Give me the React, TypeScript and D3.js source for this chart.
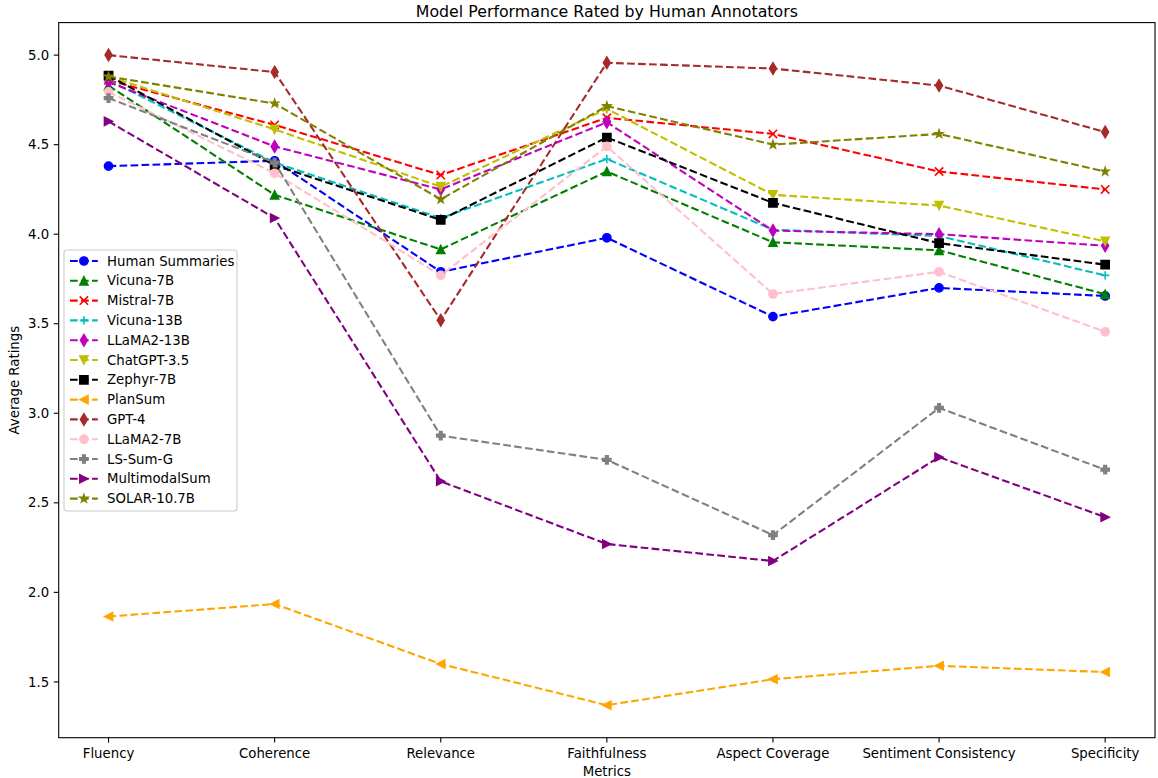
import React from "react";
import * as d3 from "d3";

const metrics = ["Fluency", "Coherence", "Relevance", "Faithfulness", "Aspect Coverage", "Sentiment Consistency", "Specificity"];

const humanSummaries = [4.38, 4.41, 3.79, 3.98, 3.54, 3.70, 3.655];
const vicuna7B = [4.83, 4.22, 3.915, 4.35, 3.955, 3.91, 3.665];
const mistral7B = [4.86, 4.61, 4.33, 4.65, 4.56, 4.35, 4.25];
const vicuna13B = [4.86, 4.40, 4.09, 4.42, 4.025, 3.99, 3.77];
const llama213B = [4.85, 4.49, 4.25, 4.625, 4.02, 4.00, 3.935];
const chatgpt35 = [4.88, 4.585, 4.265, 4.70, 4.22, 4.16, 3.96];
const zephyr7B = [4.885, 4.385, 4.08, 4.54, 4.175, 3.95, 3.83];
const planSum = [1.865, 1.935, 1.60, 1.37, 1.515, 1.59, 1.555];
const gpt4 = [5.0, 4.905, 3.52, 4.957, 4.925, 4.83, 4.57];
const llama27B = [4.795, 4.34, 3.77, 4.49, 3.666, 3.79, 3.455];
const lsSumG = [4.76, 4.40, 2.875, 2.74, 2.32, 3.03, 2.685];
const multimodalSum = [4.63, 4.09, 2.62, 2.27, 2.175, 2.755, 2.42];
const solar107B = [4.88, 4.73, 4.195, 4.715, 4.50, 4.56, 4.35];

const seriesNames = ["Human Summaries", "Vicuna-7B", "Mistral-7B", "Vicuna-13B", "LLaMA2-13B", "ChatGPT-3.5", "Zephyr-7B", "PlanSum", "GPT-4", "LLaMA2-7B", "LS-Sum-G", "MultimodalSum", "SOLAR-10.7B"];
const seriesValues = [humanSummaries, vicuna7B, mistral7B, vicuna13B, llama213B, chatgpt35, zephyr7B, planSum, gpt4, llama27B, lsSumG, multimodalSum, solar107B];
const seriesColors = ["#0000ff", "#008000", "#ff0000", "#00bfbf", "#bf00bf", "#bfbf00", "#000000", "#ffa500", "#a52a2a", "#ffc0cb", "#808080", "#800080", "#808000"];
const seriesMarkers = ["o", "^", "x", "+", "d", "v", "s", "<", "d", "o", "P", ">", "*"];

const yTicks = [1.5, 2.0, 2.5, 3.0, 3.5, 4.0, 4.5, 5.0];

const W = 1158;
const H = 778;
const left = 58.7;
const right = 1155;
const top = 22.6;
const bottom = 737.7;
const FONT = "'DejaVu Sans', sans-serif";
const FS = 13.3;
const MS = 8.33; // marker size px
const H2 = MS / 2;

function markerPath(m: string): string {
  const h = H2;
  switch (m) {
    case "^":
      return `M0,${-h}L${-h},${h}L${h},${h}Z`;
    case "v":
      return `M0,${h}L${-h},${-h}L${h},${-h}Z`;
    case "<":
      return `M${-h},0L${h},${-h}L${h},${h}Z`;
    case ">":
      return `M${h},0L${-h},${-h}L${-h},${h}Z`;
    case "s":
      return `M${-h},${-h}L${h},${-h}L${h},${h}L${-h},${h}Z`;
    case "d": {
      const v = MS * 0.7071;
      const hh = v * 0.6;
      return `M0,${-v}L${hh},0L0,${v}L${-hh},0Z`;
    }
    case "P": {
      const a = MS / 2;
      const b = MS / 6;
      return `M${-b},${-a}L${b},${-a}L${b},${-b}L${a},${-b}L${a},${b}L${b},${b}L${b},${a}L${-b},${a}L${-b},${b}L${-a},${b}L${-a},${-b}L${-b},${-b}Z`;
    }
    case "*": {
      const pts: string[] = [];
      const ro = h;
      const ri = h * 0.381966;
      for (let i = 0; i < 10; i++) {
        const r = i % 2 === 0 ? ro : ri;
        const ang = (Math.PI / 5) * i;
        pts.push(`${(r * Math.sin(ang)).toFixed(3)},${(-r * Math.cos(ang)).toFixed(3)}`);
      }
      return "M" + pts.join("L") + "Z";
    }
    case "x":
      return `M${-h},${-h}L${h},${h}M${-h},${h}L${h},${-h}`;
    case "+":
      return `M${-h},0L${h},0M0,${-h}L0,${h}`;
    default:
      return "";
  }
}

function Marker({ m, color, x, y }: { m: string; color: string; x: number; y: number }) {
  if (m === "o") {
    return <circle cx={x} cy={y} r={H2} fill={color} stroke={color} strokeWidth={1.39} />;
  }
  const open = m === "x" || m === "+";
  return (
    <path
      d={markerPath(m)}
      transform={`translate(${x},${y})`}
      fill={open ? "none" : color}
      stroke={color}
      strokeWidth={open ? 1.6 : 1.39}
      strokeLinejoin="miter"
    />
  );
}

export default function App() {
  const x = d3.scaleLinear().domain([-0.3, 6.3]).range([left, right]);
  const y = d3.scaleLinear().domain([1.1885, 5.1815]).range([bottom, top]);
  const line = d3
    .line<number>()
    .x((_, i) => x(i))
    .y((v) => y(v));

  const legX = 64;
  const legY = 250;
  const legW = 173;
  const legH = 261;
  const rowH = 19.8;

  return (
    <svg width={W} height={H} style={{ position: "absolute", left: 0, top: 0, background: "#fff" }} fontFamily={FONT}>
      <rect x={0} y={0} width={W} height={H} fill="#fff" />
      {seriesValues.map((vals, si) => (
        <g key={seriesNames[si]}>
          <path d={line(vals) || ""} fill="none" stroke={seriesColors[si]} strokeWidth={2.08} strokeDasharray="7.7,3.3" />
          {vals.map((v, i) => (
            <Marker key={i} m={seriesMarkers[si]} color={seriesColors[si]} x={x(i)} y={y(v)} />
          ))}
        </g>
      ))}
      <rect x={left} y={top} width={right - left} height={bottom - top} fill="none" stroke="#000" strokeWidth={1.1} />
      {yTicks.map((t) => (
        <g key={t}>
          <line x1={left} x2={left - 4.9} y1={y(t)} y2={y(t)} stroke="#000" strokeWidth={1.1} />
          <text x={left - 9.5} y={y(t)} dy="0.35em" textAnchor="end" fontSize={FS} fill="#000">
            {t.toFixed(1)}
          </text>
        </g>
      ))}
      {metrics.map((m, i) => (
        <g key={m}>
          <line x1={x(i)} x2={x(i)} y1={bottom} y2={bottom + 4.9} stroke="#000" strokeWidth={1.1} />
          <text x={x(i)} y={bottom + 9.8} dy="0.76em" textAnchor="middle" fontSize={FS} fill="#000">
            {m}
          </text>
        </g>
      ))}
      <text x={(left + right) / 2} y={776} textAnchor="middle" fontSize={FS} fill="#000">
        Metrics
      </text>
      <text transform={`translate(19,${(top + bottom) / 2}) rotate(-90)`} textAnchor="middle" fontSize={FS} fill="#000">
        Average Ratings
      </text>
      <text x={(left + right) / 2} y={16.5} textAnchor="middle" fontSize={15.8} fill="#000">
        Model Performance Rated by Human Annotators
      </text>
      <rect x={legX} y={legY} width={legW} height={legH} rx={3} fill="#fff" fillOpacity={0.8} stroke="#cccccc" strokeWidth={1.1} />
      {seriesNames.map((n, i) => {
        const cy = 261 + i * rowH;
        return (
          <g key={n}>
            <line x1={70} x2={97.8} y1={cy} y2={cy} stroke={seriesColors[i]} strokeWidth={2.08} strokeDasharray="7.7,3.3" />
            <Marker m={seriesMarkers[i]} color={seriesColors[i]} x={83.9} y={cy} />
            <text x={107} y={cy} dy="0.35em" fontSize={FS} fill="#000">
              {n}
            </text>
          </g>
        );
      })}
    </svg>
  );
}
